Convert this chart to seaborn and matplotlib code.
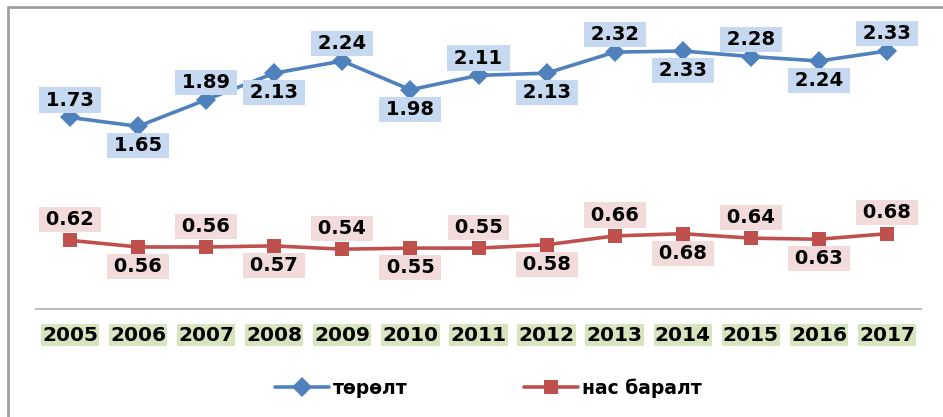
import matplotlib
matplotlib.use("Agg")
import matplotlib.pyplot as plt
from matplotlib.lines import Line2D
import seaborn as sns
import pandas as pd

years = ["2005", "2006", "2007", "2008", "2009", "2010", "2011",
         "2012", "2013", "2014", "2015", "2016", "2017"]
birth = [1.73, 1.65, 1.89, 2.13, 2.24, 1.98, 2.11, 2.13, 2.32, 2.33, 2.28, 2.24, 2.33]
death = [0.62, 0.56, 0.56, 0.57, 0.54, 0.55, 0.55, 0.58, 0.66, 0.68, 0.64, 0.63, 0.68]
series_names = ["төрөлт", "нас баралт"]

sns.set_theme(style="white")
plt.rcParams["font.family"] = ["DejaVu Sans"]

BLUE = "#4f81bd"
RED = "#c0504d"

df = pd.DataFrame({
    "idx": list(range(len(years))) * 2,
    "value": birth + death,
    "series": [series_names[0]] * len(years) + [series_names[1]] * len(years),
})

fig = plt.figure(figsize=(9.43, 4.17), dpi=100)
ax = fig.add_axes([36 / 943, 0.259, 885 / 943, 0.6638])

sns.lineplot(data=df, x="idx", y="value", hue="series", style="series",
             palette={series_names[0]: BLUE, series_names[1]: RED},
             markers={series_names[0]: "D", series_names[1]: "s"},
             dashes=False, linewidth=2.6, markersize=10, markeredgewidth=0,
             ax=ax, legend=False, sort=False)

ax.set_xlim(-0.5, len(years) - 0.5)
ax.set_ylim(0, 2.5)
ax.set_xlabel("")
ax.set_ylabel("")
ax.set_yticks([])
ax.set_xticks(range(len(years)))
ax.set_xticklabels(years, fontsize=14.5, fontweight="bold", color="black")
ax.tick_params(axis="x", length=0, pad=12)
for lbl in ax.get_xticklabels():
    lbl.set_bbox(dict(facecolor="#d7e4bd", edgecolor="none", boxstyle="square,pad=0.06"))

for s in ["left", "right", "top"]:
    ax.spines[s].set_visible(False)
ax.spines["bottom"].set_color("#bfbfbf")
ax.spines["bottom"].set_linewidth(1.5)

TS = "\u2009"

def label(vals, box, up, down):
    for i, v in enumerate(vals):
        off = up if i % 2 == 0 else down
        ax.annotate(f"{TS}{v:.2f}{TS}", (i, v), xytext=(0, off), textcoords="offset points",
                    ha="center", va="center", fontsize=14, fontweight="bold",
                    color="black", annotation_clip=False,
                    bbox=dict(facecolor=box, edgecolor="none", boxstyle="square,pad=0.16"))

label(birth, "#c6d9f1", 12.5, -14)
label(death, "#f2dcdb", 15, -14)

handles = [
    Line2D([], [], color=BLUE, marker="D", markersize=10, linewidth=2.6, markeredgewidth=0),
    Line2D([], [], color=RED, marker="s", markersize=10, linewidth=2.6, markeredgewidth=0),
]
leg = fig.legend(handles, series_names, loc="center", bbox_to_anchor=(0.518, 0.07),
                 ncol=2, frameon=False, handlelength=2.9, handletextpad=0.2,
                 columnspacing=6.2, prop=dict(size=13.5, weight="bold"))
for t in leg.get_texts():
    t.set_color("black")

# chart outer frame (left and top visible)
fig.add_artist(Line2D([8 / 943, 8 / 943], [0, 1 - 7 / 417], transform=fig.transFigure,
                      color="#a0a0a0", linewidth=2))
fig.add_artist(Line2D([8 / 943, 1], [1 - 7 / 417, 1 - 7 / 417], transform=fig.transFigure,
                      color="#a0a0a0", linewidth=2))

fig.savefig("out.png", dpi=100)
